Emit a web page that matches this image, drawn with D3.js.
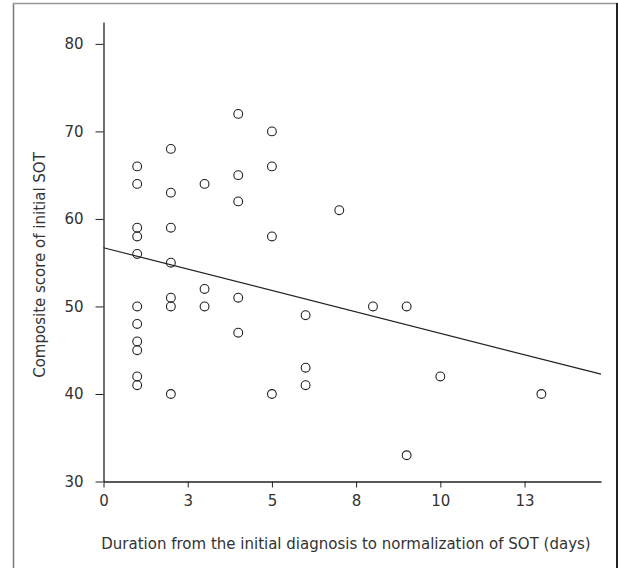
<!DOCTYPE html>
<html>
<head>
<meta charset="utf-8">
<script src="https://cdn.jsdelivr.net/npm/d3@7"></script>
<style>
  body { margin: 0; background: #fff; }
  svg text { font-family: "DejaVu Sans", sans-serif; fill: #333; }
</style>
</head>
<body>
<svg id="chart" width="618" height="568"></svg>
<script>
// days from diagnosis to normalization of SOT, and initial composite score
const days = [
  1, 1, 1, 1, 1, 1, 1, 1, 1, 1, 1,
  2, 2, 2, 2, 2, 2, 2,
  3, 3, 3,
  4, 4, 4, 4, 4,
  5, 5, 5, 5,
  6, 6, 6,
  7, 8, 9, 9, 10, 13
];
const scores = [
  66, 64, 59, 58, 56, 50, 48, 46, 45, 42, 41,
  68, 63, 59, 55, 51, 50, 40,
  64, 52, 50,
  72, 65, 62, 51, 47,
  70, 66, 58, 40,
  49, 43, 41,
  61, 50, 50, 33, 42, 40
];
const xTickValues = [0, 2.5, 5, 7.5, 10, 12.5];
const xTickLabels = ['0', '3', '5', '8', '10', '13'];
const yTickValues = [30, 40, 50, 60, 70, 80];

const svg = d3.select('#chart');

// frame around the figure
svg.append('line').attr('x1', 13.5).attr('x2', 13.5).attr('y1', 3).attr('y2', 568)
  .attr('stroke', '#777').attr('stroke-width', 1.5);
svg.append('line').attr('x1', 13).attr('x2', 618).attr('y1', 3.5).attr('y2', 3.5)
  .attr('stroke', '#999').attr('stroke-width', 1.5);
svg.append('line').attr('x1', 617).attr('x2', 617).attr('y1', 3).attr('y2', 568)
  .attr('stroke', '#222').attr('stroke-width', 2);

const x = d3.scaleLinear().domain([0, 14.77]).range([103.5, 601]);
const y = d3.scaleLinear().domain([30, 82.5]).range([481.5, 22]);

// axes
const xAxis = d3.axisBottom(x)
  .tickValues(xTickValues)
  .tickFormat((d, i) => xTickLabels[i])
  .tickSize(6)
  .tickSizeOuter(0);
const yAxis = d3.axisLeft(y)
  .tickValues(yTickValues)
  .tickSize(8)
  .tickSizeOuter(0);

const gx = svg.append('g').attr('transform', `translate(0,${y(30)})`).call(xAxis);
const gy = svg.append('g').attr('transform', `translate(${x(0)},0)`).call(yAxis);

[gx, gy].forEach(g => {
  g.attr('font-size', null).attr('font-family', null);
  g.select('.domain').attr('stroke', '#222').attr('stroke-width', 1.3);
  g.selectAll('.tick line').attr('stroke', '#222');
  g.selectAll('.tick text').attr('fill', '#333')
    .style('font-size', '15px')
    .style('font-family', '"DejaVu Sans", sans-serif');
});
gx.selectAll('.tick text').attr('dy', '0.9em').attr('y', 11);
gy.selectAll('.tick text').attr('x', -20);

// axis titles
svg.append('text')
  .attr('x', 346).attr('y', 549)
  .attr('text-anchor', 'middle')
  .style('font-size', '15px')
  .text('Duration from the initial diagnosis to normalization of SOT (days)');

svg.append('text')
  .attr('transform', 'translate(45,265) rotate(-90)')
  .attr('text-anchor', 'middle')
  .style('font-size', '15px')
  .text('Composite score of initial SOT');

// least squares fit line
const n = days.length;
const mx = d3.mean(days);
const my = d3.mean(scores);
let sxy = 0, sxx = 0;
for (let i = 0; i < n; i++) {
  sxy += (days[i] - mx) * (scores[i] - my);
  sxx += (days[i] - mx) * (days[i] - mx);
}
const slope = sxy / sxx;
const intercept = my - slope * mx;
const [x0, x1] = x.domain();

svg.append('line')
  .attr('x1', x(x0)).attr('y1', y(intercept + slope * x0))
  .attr('x2', x(x1)).attr('y2', y(intercept + slope * x1))
  .attr('stroke', '#222').attr('stroke-width', 1.2);

// points
svg.selectAll('.point')
  .data(days.map((d, i) => ({ d, s: scores[i] })))
  .enter()
  .append('circle')
  .attr('class', 'point')
  .attr('cx', p => x(p.d))
  .attr('cy', p => y(p.s))
  .attr('r', 4.4)
  .attr('fill', 'none')
  .attr('stroke', '#222')
  .attr('stroke-width', 1.1);
</script>
</body>
</html>
